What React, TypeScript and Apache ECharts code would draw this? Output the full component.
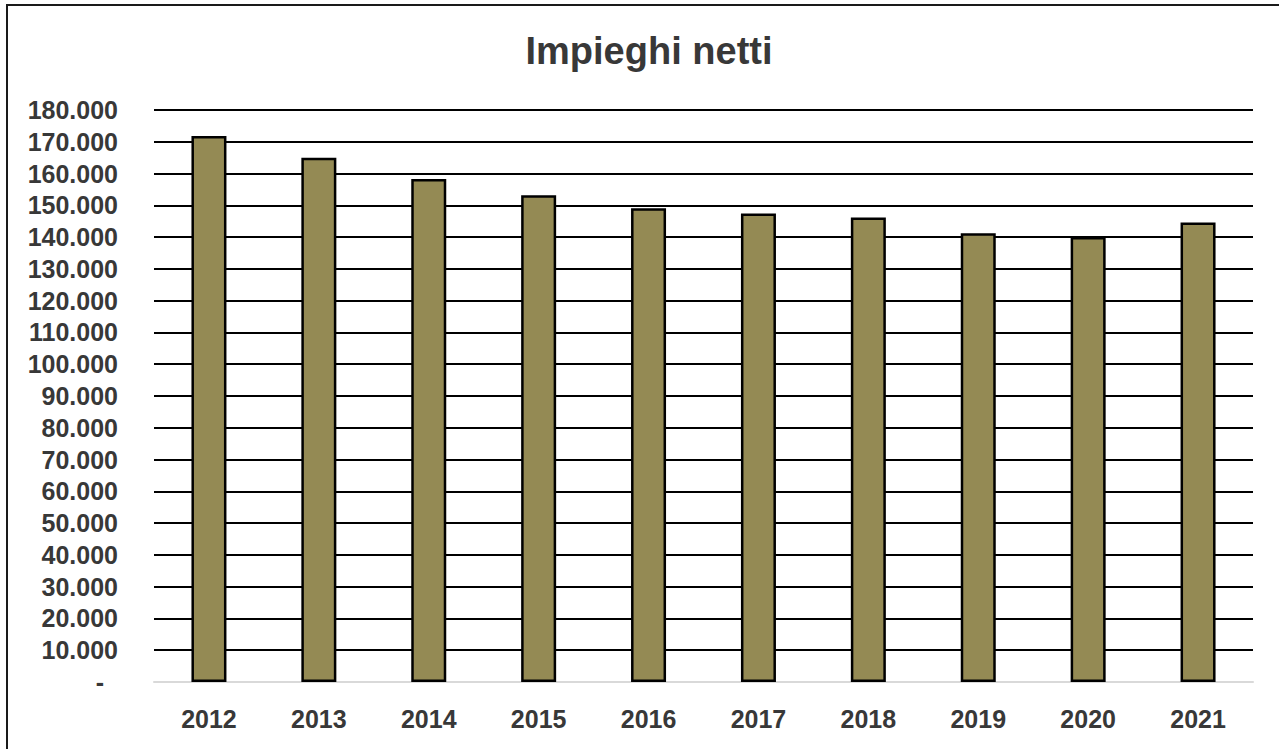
import React, { useEffect, useRef } from "react";
import * as echarts from "echarts";

const title = "Impieghi netti";
const years = ["2012", "2013", "2014", "2015", "2016", "2017", "2018", "2019", "2020", "2021"];
const impieghi = [171800, 165000, 158300, 153200, 149100, 147400, 146200, 141200, 140000, 144600];
const yMin = 0;
const yMax = 180000;
const yStep = 10000;

const FONT = "'Liberation Sans Narrow', 'Arial Narrow', 'Liberation Sans', Arial, sans-serif";
const TEXT = "#383838";

function fmt(v: number): string {
  if (v === 0) return "-\u2007";
  return String(v).replace(/\B(?=(\d{3})+(?!\d))/g, ".");
}

export default function App() {
  const ref = useRef<HTMLDivElement>(null);
  useEffect(() => {
    if (!ref.current) return;
    const chart = echarts.init(ref.current, undefined, { renderer: "svg" });
    chart.setOption({
      animation: false,
      backgroundColor: "#ffffff",
      title: {
        text: title,
        left: 644,
        top: 27,
        textAlign: "center",
        textStyle: { fontFamily: FONT, fontWeight: "bold", fontSize: 38, color: TEXT },
      },
      graphic: [
        {
          type: "rect",
          shape: { x: 7, y: 5, width: 1300, height: 800 },
          style: { fill: "none", stroke: "#1a1a1a", lineWidth: 2 },
          silent: true,
        },
      ],
      grid: { left: 154, right: 26, top: 110, bottom: 67, containLabel: false },
      xAxis: {
        type: "category",
        data: years,
        z: 3,
        axisLine: { show: true, lineStyle: { color: "#d9d9d9", width: 2 } },
        axisTick: { show: false },
        axisLabel: {
          margin: 24,
          fontFamily: FONT,
          fontWeight: "bold",
          fontSize: 25,
          color: TEXT,
        },
      },
      yAxis: {
        type: "value",
        min: yMin,
        max: yMax,
        interval: yStep,
        axisLine: { show: false },
        axisTick: { show: false },
        splitLine: { show: true, lineStyle: { color: "#000000", width: 1.8 } },
        axisLabel: {
          margin: 36,
          fontFamily: FONT,
          fontWeight: "bold",
          fontSize: 25,
          color: TEXT,
          formatter: (v: number) => fmt(v),
        },
      },
      series: [
        {
          type: "bar",
          data: impieghi,
          barWidth: 35,
          z: 4,
          itemStyle: { color: "#948A54", borderColor: "#000000", borderWidth: 2.5 },
        },
      ],
    });
    return () => chart.dispose();
  }, []);
  return (
    <div
      ref={ref}
      style={{ position: "fixed", left: 0, top: 0, width: 1279, height: 749 }}
    />
  );
}
